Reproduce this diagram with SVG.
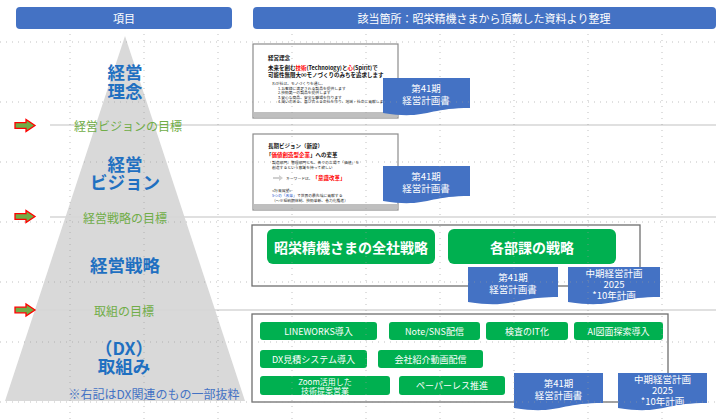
<svg xmlns="http://www.w3.org/2000/svg" width="720" height="419" viewBox="0 0 720 419">
<defs>
<style>
text{font-family:"Noto Sans CJK JP","Liberation Sans",sans-serif}
.hdr{fill:#4472c4}
.hdrt{fill:#fff;font-size:11px;text-anchor:middle;dominant-baseline:central}
.lvl{fill:#1f70c1;font-size:17.5px;font-weight:bold;text-anchor:middle;dominant-baseline:central}
.goal{fill:#70ad47;font-size:12px;text-anchor:middle;dominant-baseline:central}
.sep{stroke:#d6d6d6;stroke-width:1.6}
.btn{fill:#00b050}
.btnt{fill:#fff;font-size:9px;text-anchor:middle;dominant-baseline:central}
.bigt{fill:#fff;font-size:14px;font-weight:bold;text-anchor:middle;dominant-baseline:central}
.doc{fill:#4472c4}
.doct{fill:#fff;font-size:9.5px;text-anchor:middle}
.frame{fill:#fff;stroke:#6f6f6f;stroke-width:1.3}
.thumb{fill:#fff;stroke:#8c8c8c;stroke-width:1.2}
.tb{font-size:5.5px;font-weight:bold;fill:#111}
.ts{font-size:3.8px;fill:#222}
.red{fill:#ff0000}
.grid{stroke:#9a9a9a;stroke-width:1;stroke-dasharray:1 5;opacity:.6}
</style>
<path id="arrow" d="M0,-2.8 H11 V-6 L20,0 L11,6 V2.8 H0 Z" fill="#70ad47" stroke="#ff0000" stroke-width="1.3"/>
</defs>
<rect width="720" height="419" fill="#fff"/>

<!-- header -->
<g id="header-left"><rect class="hdr" x="16" y="7" width="216" height="22" rx="4"/><text class="hdrt" x="124" y="18">項目</text></g>
<g id="header-right"><rect class="hdr" x="253" y="7" width="463" height="22" rx="4"/><text class="hdrt" x="484" y="18">該当箇所：昭栄精機さまから頂戴した資料より整理</text></g>

<!-- pyramid -->
<g id="pyramid"><polygon points="125,36 245,401 5,401" fill="#d9d9d9"/></g>

<!-- separators -->
<g id="separators">
<line class="sep" x1="50" y1="125" x2="716" y2="125"/>
<line class="sep" x1="50" y1="217" x2="716" y2="217"/>
<line class="sep" x1="38" y1="310" x2="716" y2="310"/>
</g>

<g id="goal-arrows">
<use href="#arrow" x="15" y="125.5"/>
<use href="#arrow" x="15" y="216.5"/>
<use href="#arrow" x="15" y="310"/>
</g>

<g id="level-rinen"><text class="lvl"><tspan x="125" y="71">経営</tspan><tspan x="125" y="90">理念</tspan></text></g>
<g id="goal-vision"><text class="goal" x="128" y="125">経営ビジョンの目標</text></g>
<g id="level-vision"><text class="lvl"><tspan x="125" y="163">経営</tspan><tspan x="125" y="181">ビジョン</tspan></text></g>
<g id="goal-strategy"><text class="goal" x="125" y="217">経営戦略の目標</text></g>
<g id="level-strategy"><text class="lvl" x="125" y="264">経営戦略</text></g>
<g id="goal-action"><text class="goal" x="124" y="310">取組の目標</text></g>
<g id="level-dx"><text class="lvl"><tspan x="124" y="347">（DX）</tspan><tspan x="124" y="365">取組み</tspan></text></g>
<g id="note"><text x="154" y="393" style="fill:#4472c4;font-size:12px;text-anchor:middle;dominant-baseline:central">※右記はDX関連のもの一部抜粋</text></g>

<!-- thumbnail 1 -->
<g id="thumb-rinen">
<rect class="thumb" x="253" y="44" width="145" height="74"/>
<rect x="253.6" y="112" width="143.8" height="5.4" fill="#bfbfbf"/>
<text class="tb"><tspan x="268" y="60">経営理念</tspan><tspan x="268" y="70">未来を創む<tspan class="red">技術</tspan>(Technology)と<tspan class="red">心</tspan>(Spirit)で</tspan><tspan x="268" y="77">可能性無限大∞モノづくりのみちを追求します</tspan></text>
<text class="ts"><tspan x="272" y="85">わが社は、モノづくりを通し、</tspan><tspan x="278" y="89.6">1.お客様に満足される製品を提供します</tspan><tspan x="278" y="94.2">2.技術第一の製品を提供します</tspan><tspan x="278" y="98.8">3.安心な商品、安全な職場を作ります</tspan><tspan x="278" y="103.4">4.潤いのある、喜び合える会社を作り、地域・社会に貢献します</tspan></text>
</g>
<g id="doc-rinen">
<path class="doc" d="M383,78 H470 V108 C426,108 426,120 383,113 Z"/>
<text class="doct"><tspan x="426" y="92">第41期</tspan><tspan x="426" y="104">経営計画書</tspan></text>
</g>

<!-- thumbnail 2 -->
<g id="thumb-vision">
<rect class="thumb" x="253" y="134" width="145" height="76"/>
<rect x="253.6" y="204" width="143.8" height="5.4" fill="#bfbfbf"/>
<text class="tb"><tspan x="268" y="148">長期ビジョン（新設）</tspan><tspan x="266" y="157">「<tspan class="red">価値創造型企業</tspan>」への変革</tspan></text>
<text class="ts"><tspan x="272" y="164">製造部門、管理部門とも、各々の立場で「価値」を</tspan><tspan x="272" y="169">創造するという意識を持って欲しい</tspan></text>
<path d="M273,177 h6 v-2 l4,3 l-4,3 v-2 h-6 z" fill="#d0d0d0"/>
<text class="ts" x="286" y="180">キーワードは、<tspan class="red" style="font-size:5.5px;font-weight:bold">「意識改革」</tspan></text>
<text class="ts"><tspan x="272" y="192">&lt;将来展望&gt;</tspan><tspan x="272" y="197"><tspan style="fill:#2255cc">5つの「改革」</tspan>で世界の最先端に貢献する</tspan><tspan x="272" y="202">（～※短納期体制、技術革新、省力化推進）</tspan></text>
</g>
<g id="doc-vision">
<path class="doc" d="M383,166 H470 V196 C426,196 426,208 383,201 Z"/>
<text class="doct"><tspan x="426" y="180">第41期</tspan><tspan x="426" y="192">経営計画書</tspan></text>
</g>

<!-- strategy -->
<g id="strategy-frame"><rect class="frame" x="252" y="225" width="388" height="61"/></g>
<g id="btn-company"><rect class="btn" x="267" y="229" width="168" height="35" rx="6"/><text class="bigt" x="351" y="246.5">昭栄精機さまの全社戦略</text></g>
<g id="btn-dept"><rect class="btn" x="448" y="229" width="168" height="35" rx="6"/><text class="bigt" x="532" y="246.5">各部課の戦略</text></g>
<g id="doc-strategy-1">
<path class="doc" d="M468,267 H558 V297 C513,297 513,309 468,302 Z"/>
<text class="doct"><tspan x="513" y="281">第41期</tspan><tspan x="513" y="293">経営計画書</tspan></text>
</g>
<g id="doc-strategy-2">
<path class="doc" d="M568,267 H660 V297 C614,297 614,309 568,302 Z"/>
<text class="doct"><tspan x="614" y="277">中期経営計画</tspan><tspan x="614" y="288">2025</tspan><tspan x="614" y="299">*10年計画</tspan></text>
</g>

<!-- DX -->
<g id="dx-frame"><rect class="frame" x="252" y="314" width="416" height="88"/></g>
<g id="btn-lineworks"><rect class="btn" x="260" y="322" width="117" height="18" rx="3"/><text class="btnt" x="318.5" y="331">LINEWORKS導入</text></g>
<g id="btn-note"><rect class="btn" x="389" y="322" width="91" height="18" rx="3"/><text class="btnt" x="434.5" y="331">Note/SNS配信</text></g>
<g id="btn-inspect"><rect class="btn" x="486" y="322" width="82" height="18" rx="3"/><text class="btnt" x="527" y="331">検査のIT化</text></g>
<g id="btn-ai"><rect class="btn" x="574" y="322" width="89" height="18" rx="3"/><text class="btnt" x="618.5" y="331">AI図面探索導入</text></g>
<g id="btn-estimate"><rect class="btn" x="260" y="350" width="107" height="18" rx="3"/><text class="btnt" x="313.5" y="359">DX見積システム導入</text></g>
<g id="btn-video"><rect class="btn" x="378" y="350" width="105" height="18" rx="3"/><text class="btnt" x="430.5" y="359">会社紹介動画配信</text></g>
<g id="btn-zoom"><rect class="btn" x="260" y="376" width="130" height="19" rx="3"/><text class="btnt" style="font-size:8px"><tspan x="325" y="381.2">Zoom活用した</tspan><tspan x="325" y="389.8">技術提案営業</tspan></text></g>
<g id="btn-paperless"><rect class="btn" x="399" y="376" width="106" height="19" rx="3"/><text class="btnt" x="452" y="385.5">ペーパーレス推進</text></g>
<g id="doc-dx-1">
<path class="doc" d="M514,373 H603 V403 C558,403 558,415 514,408 Z"/>
<text class="doct"><tspan x="558.5" y="387">第41期</tspan><tspan x="558.5" y="399">経営計画書</tspan></text>
</g>
<g id="doc-dx-2">
<path class="doc" d="M618,373 H707 V403 C662,403 662,415 618,408 Z"/>
<text class="doct"><tspan x="662.5" y="383">中期経営計画</tspan><tspan x="662.5" y="394">2025</tspan><tspan x="662.5" y="405">*10年計画</tspan></text>
</g>

<!-- guide grid -->
<g id="grid">
<line class="grid" x1="70" y1="34" x2="70" y2="419"/>
<line class="grid" x1="144" y1="34" x2="144" y2="419"/>
<line class="grid" x1="218" y1="34" x2="218" y2="419"/>
<line class="grid" x1="292" y1="34" x2="292" y2="419"/>
<line class="grid" x1="366" y1="34" x2="366" y2="419"/>
<line class="grid" x1="440" y1="34" x2="440" y2="419"/>
<line class="grid" x1="514" y1="34" x2="514" y2="419"/>
<line class="grid" x1="588" y1="34" x2="588" y2="419"/>
<line class="grid" x1="662" y1="34" x2="662" y2="419"/>
<line class="grid" x1="0" y1="42" x2="720" y2="42"/>
<line class="grid" x1="0" y1="102" x2="720" y2="102"/>
<line class="grid" x1="0" y1="162" x2="720" y2="162"/>
<line class="grid" x1="0" y1="222" x2="720" y2="222"/>
<line class="grid" x1="0" y1="282" x2="720" y2="282"/>
<line class="grid" x1="0" y1="342" x2="720" y2="342"/>
<line class="grid" x1="0" y1="402" x2="720" y2="402"/>
</g>
</svg>
